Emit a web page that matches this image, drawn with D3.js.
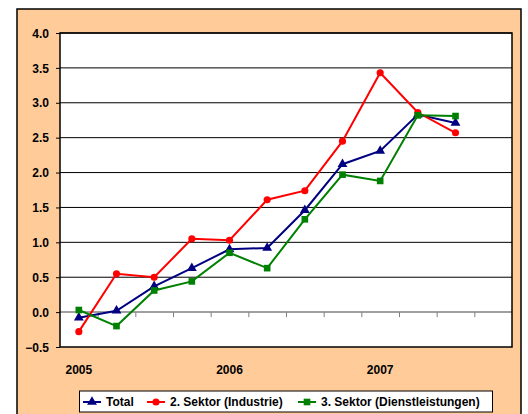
<!DOCTYPE html>
<html>
<head>
<meta charset="utf-8">
<script src="https://cdn.jsdelivr.net/npm/d3@7"></script>
<style>
  body { margin: 0; background: #fff; }
  text { font-family: Arial, "Liberation Sans", sans-serif; font-weight: bold; font-size: 12px; fill: #000; }
</style>
</head>
<body>
<script>
// quarters 2005 Q1 .. 2007 Q4
const quarters = ["2005 Q1","2005 Q2","2005 Q3","2005 Q4","2006 Q1","2006 Q2","2006 Q3","2006 Q4","2007 Q1","2007 Q2","2007 Q3","2007 Q4"];
const yearLabels = ["2005", "2006", "2007"];
const yearIndex = [0, 4, 8];
const yTicks = [-0.5, 0, 0.5, 1, 1.5, 2, 2.5, 3, 3.5, 4];

const total = [-0.08, 0.02, 0.37, 0.63, 0.90, 0.92, 1.46, 2.12, 2.31, 2.83, 2.71];
const industrie = [-0.28, 0.55, 0.50, 1.05, 1.03, 1.61, 1.74, 2.45, 3.43, 2.86, 2.57];
const dienst = [0.03, -0.20, 0.31, 0.44, 0.85, 0.63, 1.33, 1.97, 1.88, 2.82, 2.81];

const series = [
  { name: "Total", values: total, color: "#000080", marker: d3.symbolTriangle, size: 42 },
  { name: "2. Sektor (Industrie)", values: industrie, color: "#FF0000", marker: d3.symbolCircle, size: 40 },
  { name: "3. Sektor (Dienstleistungen)", values: dienst, color: "#008000", marker: d3.symbolSquare, size: 44 }
];

const W = 528, H = 414;
const plot = { left: 60, right: 512, top: 33, bottom: 347 };

const svg = d3.select("body").append("svg")
    .attr("width", W)
    .attr("height", H);

// outer panel
svg.append("rect")
    .attr("x", 17).attr("y", 9)
    .attr("width", 504).attr("height", 410)
    .attr("fill", "#FFCC99")
    .attr("stroke", "#000")
    .attr("stroke-width", 1.5);

const x = d3.scaleLinear().domain([0, quarters.length]).range([plot.left, plot.right]);
const y = d3.scaleLinear().domain([-0.5, 4]).range([plot.bottom, plot.top]);

svg.append("rect")
    .attr("x", plot.left).attr("y", plot.top)
    .attr("width", plot.right - plot.left).attr("height", plot.bottom - plot.top)
    .attr("fill", "#fff");

// gridlines
svg.append("g")
  .selectAll("line")
  .data(yTicks.filter(d => d !== 0 && d !== -0.5))
  .join("line")
    .attr("x1", plot.left).attr("x2", plot.right)
    .attr("y1", d => y(d)).attr("y2", d => y(d))
    .attr("stroke", "#000")
    .attr("stroke-width", 1);

// y axis
const yAxis = svg.append("g")
    .attr("transform", `translate(${plot.left},0)`)
    .call(d3.axisLeft(y).tickValues(yTicks).tickSize(4).tickPadding(7).tickFormat(d3.format(".1f")));
yAxis.select(".domain").remove();
yAxis.selectAll("text").attr("font-family", null).attr("font-size", null).attr("dy", "0.35em");
yAxis.selectAll("line").attr("stroke", "#000");

// zero line with category ticks
const xAxis = svg.append("g")
    .attr("transform", `translate(0,${y(0)})`)
    .call(d3.axisBottom(x).tickValues(d3.range(1, quarters.length)).tickSize(5).tickFormat(""));
xAxis.select(".domain").remove();
xAxis.selectAll("line").attr("stroke", "#808080");
svg.append("line")
    .attr("x1", plot.left).attr("x2", plot.right)
    .attr("y1", y(0)).attr("y2", y(0))
    .attr("stroke", "#808080")
    .attr("stroke-width", 1.5);

// plot border
svg.append("rect")
    .attr("x", plot.left).attr("y", plot.top)
    .attr("width", plot.right - plot.left).attr("height", plot.bottom - plot.top)
    .attr("fill", "none")
    .attr("stroke", "#000")
    .attr("stroke-width", 1.5);

// year labels
svg.append("g")
  .selectAll("text")
  .data(yearLabels)
  .join("text")
    .attr("x", (d, i) => x(yearIndex[i] + 0.5))
    .attr("y", 374)
    .attr("text-anchor", "middle")
    .text(d => d);

const line = d3.line()
    .x((d, i) => x(i + 0.5))
    .y(d => y(d));

series.forEach(s => {
  const g = svg.append("g");
  g.append("path")
      .datum(s.values)
      .attr("d", line)
      .attr("fill", "none")
      .attr("stroke", s.color)
      .attr("stroke-width", 2);
  g.selectAll("path.m")
    .data(s.values)
    .join("path")
      .attr("class", "m")
      .attr("transform", (d, i) => `translate(${x(i + 0.5)},${y(d)})`)
      .attr("d", d3.symbol(s.marker, s.size))
      .attr("fill", s.color);
});

// legend
const legend = svg.append("g");
legend.append("rect")
    .attr("x", 79.5).attr("y", 391)
    .attr("width", 413).attr("height", 21)
    .attr("fill", "#fff")
    .attr("stroke", "#000")
    .attr("stroke-width", 1);
const legendX = [83, 147, 298];
series.forEach((s, i) => {
  const lg = legend.append("g").attr("transform", `translate(${legendX[i]},402)`);
  lg.append("line")
      .attr("x1", 0).attr("x2", 18)
      .attr("stroke", s.color).attr("stroke-width", 2);
  lg.append("path")
      .attr("transform", "translate(9,0)")
      .attr("d", d3.symbol(s.marker, s.size))
      .attr("fill", s.color);
  lg.append("text")
      .attr("x", 23)
      .attr("dy", "0.35em")
      .text(s.name);
});
</script>
</body>
</html>
